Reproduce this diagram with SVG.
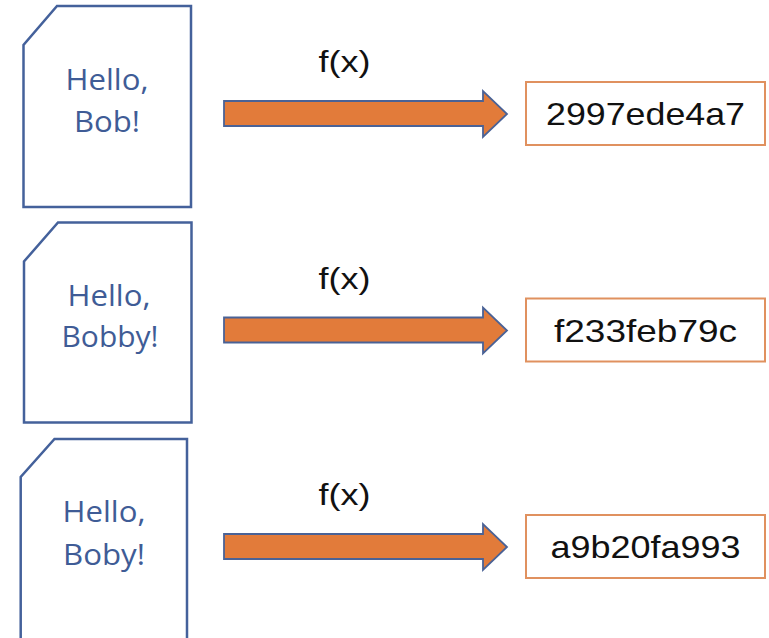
<svg xmlns="http://www.w3.org/2000/svg" width="769" height="638" viewBox="0 0 769 638">
<defs>
<style>
.doc{fill:#ffffff;stroke:#44619b;stroke-width:2.5;stroke-linejoin:miter}
.doctxt{font-family:"Open Sans","Noto Sans",sans-serif;font-size:29.5px;fill:#3f5c96;text-anchor:middle}
.arrow{fill:#e27b3a;stroke:#4a6296;stroke-width:1.8;stroke-linejoin:miter}
.fx{font-family:"Liberation Sans",Arial,sans-serif;font-size:30px;fill:#111111;text-anchor:middle}
.box{fill:#ffffff;stroke:#e0915f;stroke-width:2}
.hash{font-family:"Liberation Sans",Arial,sans-serif;font-size:32px;fill:#111111;text-anchor:middle}
</style>
</defs>
<rect width="769" height="638" fill="#ffffff"/>
<g id="doc1">
<path class="doc" d="M57,6 H191 V207 H23.5 V45 Z"/>
<text class="doctxt" x="107" y="90" textLength="83" lengthAdjust="spacingAndGlyphs">Hello,</text>
<text class="doctxt" x="107" y="131.5" textLength="66" lengthAdjust="spacingAndGlyphs">Bob!</text>
</g>
<g id="doc2">
<path class="doc" d="M58,222.5 H191.5 V422.5 H24 V261.5 Z"/>
<text class="doctxt" x="109" y="305.5" textLength="83" lengthAdjust="spacingAndGlyphs">Hello,</text>
<text class="doctxt" x="110" y="347" textLength="97" lengthAdjust="spacingAndGlyphs">Bobby!</text>
</g>
<g id="doc3">
<path class="doc" d="M54.5,439 H187 V642 H20.7 V477 Z"/>
<text class="doctxt" x="104" y="521.5" textLength="83" lengthAdjust="spacingAndGlyphs">Hello,</text>
<text class="doctxt" x="104" y="564.5" textLength="82" lengthAdjust="spacingAndGlyphs">Boby!</text>
</g>
<g id="connectors">
<path class="arrow" d="M224,101 H483 V91 L507,114 L483,137 V126 H224 Z"/>
<text class="fx" x="344.5" y="72" textLength="52" lengthAdjust="spacingAndGlyphs">f(x)</text>
<path class="arrow" d="M224,317.5 H483 V307.5 L507,330.5 L483,353.5 V342.5 H224 Z"/>
<text class="fx" x="344.5" y="288.5" textLength="52" lengthAdjust="spacingAndGlyphs">f(x)</text>
<path class="arrow" d="M224,534 H483 V524 L507,547 L483,570 V559 H224 Z"/>
<text class="fx" x="344.5" y="505" textLength="52" lengthAdjust="spacingAndGlyphs">f(x)</text>
</g>
<g id="hash1">
<rect class="box" x="526" y="82" width="239" height="63"/>
<text class="hash" x="645.5" y="125" textLength="199" lengthAdjust="spacingAndGlyphs">2997ede4a7</text>
</g>
<g id="hash2">
<rect class="box" x="526" y="298.5" width="239" height="63"/>
<text class="hash" x="645.5" y="341.5" textLength="183" lengthAdjust="spacingAndGlyphs">f233feb79c</text>
</g>
<g id="hash3">
<rect class="box" x="526" y="515" width="239" height="63"/>
<text class="hash" x="645.5" y="558" textLength="190" lengthAdjust="spacingAndGlyphs">a9b20fa993</text>
</g>
</svg>
